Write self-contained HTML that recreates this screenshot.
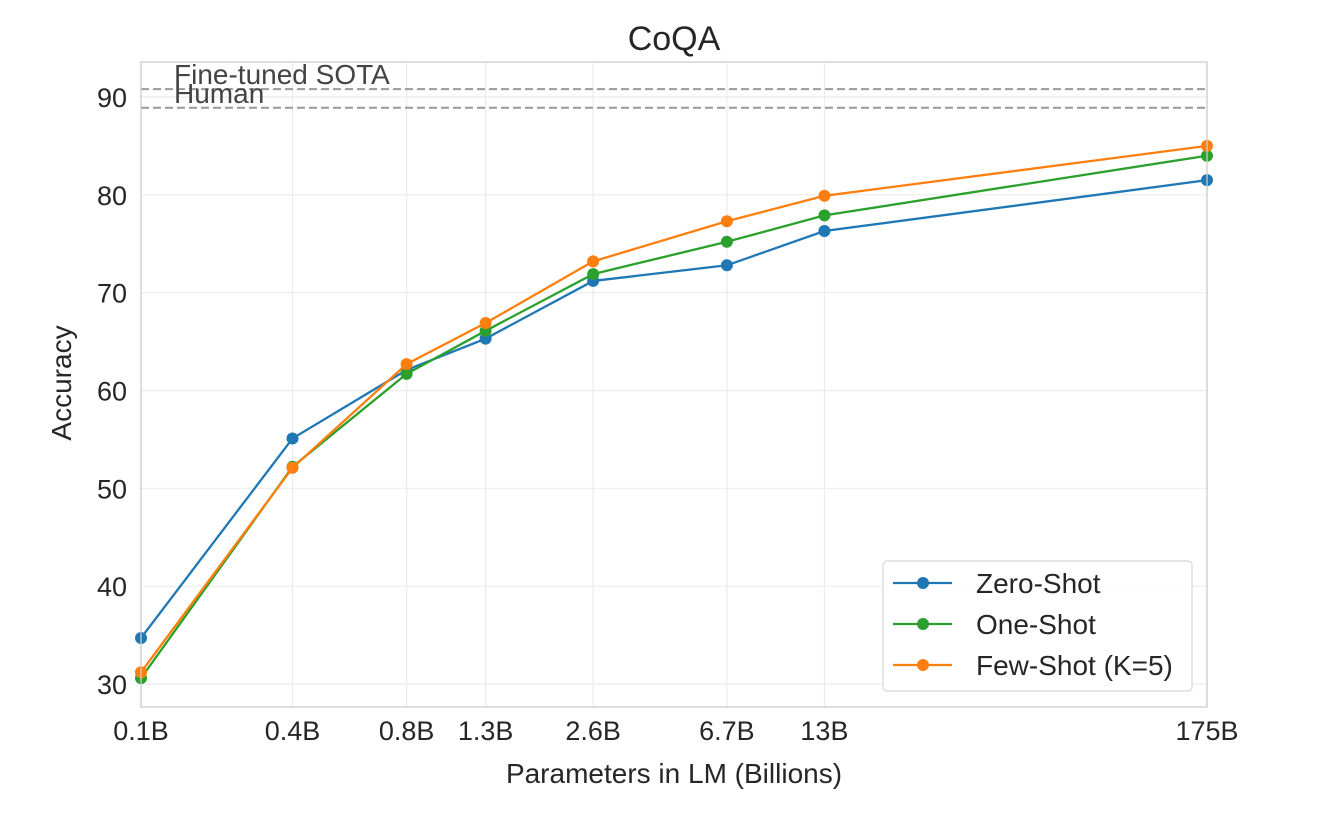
<!DOCTYPE html>
<html><head><meta charset="utf-8"><style>
body{margin:0;background:#fff}
svg text{font-family:"Liberation Sans",Arial,sans-serif;fill:#262626}
</style></head><body>
<svg id="chart" width="1324" height="816" xmlns="http://www.w3.org/2000/svg">
<rect x="0" y="0" width="1324" height="816" fill="#fff"/>
<g id="grid"></g>
<g id="refs"></g>
<g id="series"></g>
<g id="axes"></g>
<g id="legend"></g>
</svg>
<script>
const categories = ["0.1B","0.4B","0.8B","1.3B","2.6B","6.7B","13B","175B"];
const paramsB = [0.125,0.35,0.76,1.3,2.7,6.7,13,175];
const zeroShot = [34.7,55.1,62.1,65.3,71.2,72.8,76.3,81.5];
const oneShot = [30.6,52.2,61.7,66.1,71.9,75.2,77.9,84.0];
const fewShot = [31.2,52.1,62.7,66.9,73.2,77.3,79.9,85.0];
const yTicks = [30,40,50,60,70,80,90];
const refValues = [90.8,88.9];
const refLabels = ["Fine-tuned SOTA","Human"];
const seriesNames = ["Zero-Shot","One-Shot","Few-Shot (K=5)"];

const NS="http://www.w3.org/2000/svg";
const L=141,R=1207,T=62,B=707;
const lx0=Math.log10(paramsB[0]),lx1=Math.log10(paramsB[paramsB.length-1]);
function xs(p){return L+(Math.log10(p)-lx0)/(lx1-lx0)*(R-L);}
function ys(v){return 684-(v-30)*(684-97)/60;}
function mk(tag,attrs,parent,text){const e=document.createElementNS(NS,tag);for(const k in attrs)e.setAttribute(k,attrs[k]);if(text!==undefined)e.textContent=text;parent.appendChild(e);return e;}
const grid=document.getElementById('grid'),axes=document.getElementById('axes'),refs=document.getElementById('refs'),ser=document.getElementById('series'),leg=document.getElementById('legend');

paramsB.forEach((p,i)=>{
  const g=mk('line',{x1:xs(p),x2:xs(p),y1:T,y2:B,stroke:'#ebebeb','stroke-width':1.2},grid);
  
  const t=mk('text',{x:xs(p),y:740,'text-anchor':'middle','font-size':27},axes,categories[i]);
  
});
yTicks.forEach(v=>{
  const g=mk('line',{x1:L,x2:R,y1:ys(v),y2:ys(v),stroke:'#ebebeb','stroke-width':1.2},grid);
  
  const t=mk('text',{x:127,y:ys(v)+10,'text-anchor':'end','font-size':27},axes,String(v));
  
});
const frame=mk('rect',{x:L,y:T,width:R-L,height:B-T,fill:'none',stroke:'#cccccc','stroke-width':1.3},axes);


refValues.forEach((v,i)=>{
  const l=mk('line',{x1:L,x2:R,y1:ys(v),y2:ys(v),stroke:'#999','stroke-width':2,'stroke-dasharray':'8,4'},refs);
  
  const t=mk('text',{x:174,y:ys(v)-5,'font-size':28},refs,refLabels[i]);
  t.style.fill='#444';
  
});

const colors=['#1f77b4','#2ca02c','#ff7f0e'];
[zeroShot,oneShot,fewShot].forEach((d,si)=>{
  const pts=d.map((v,i)=>xs(paramsB[i])+','+ys(v)).join(' ');
  const pl=mk('polyline',{points:pts,fill:'none',stroke:colors[si],'stroke-width':2.3},ser);
  
  d.forEach((v,i)=>{
    const c=mk('circle',{cx:xs(paramsB[i]),cy:ys(v),r:6,fill:colors[si]},ser);
    
  });
});

const box=mk('rect',{x:883,y:561,width:309,height:130,rx:4,fill:'#fff','fill-opacity':0.85,stroke:'#d6d6d6','stroke-width':1.2},leg);

seriesNames.forEach((n,i)=>{
  const y=583+i*41;
  const l=mk('line',{x1:893,x2:952,y1:y,y2:y,stroke:colors[i],'stroke-width':2.3},leg);
  
  const c=mk('circle',{cx:923,cy:y,r:6,fill:colors[i]},leg);
  
  const t=mk('text',{x:976,y:y+10,'font-size':28},leg,n);
  
});

const title=mk('text',{x:674,y:50,'text-anchor':'middle','font-size':34},axes,'CoQA');

const xt=mk('text',{x:674,y:783,'text-anchor':'middle','font-size':28},axes,'Parameters in LM (Billions)');

const yt=mk('text',{x:0,y:0,'text-anchor':'middle','font-size':28,transform:'translate(71,383) rotate(-90)'},axes,'Accuracy');

</script>
</body></html>
